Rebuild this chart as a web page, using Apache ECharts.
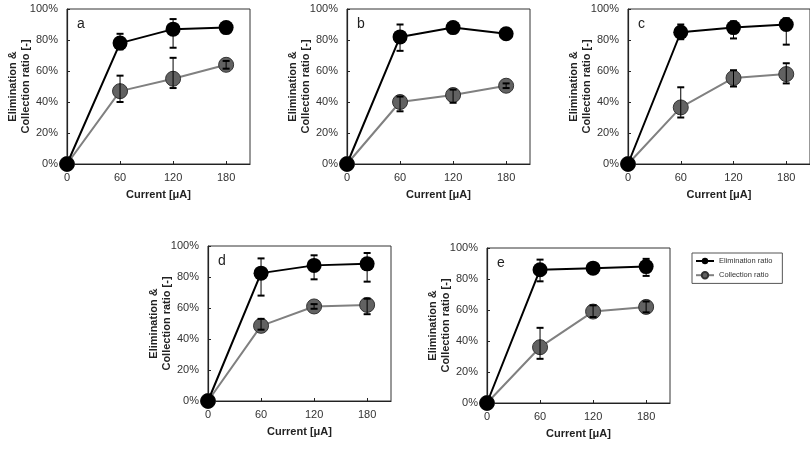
<!DOCTYPE html>
<html>
<head>
<meta charset="utf-8">
<script src="https://cdn.jsdelivr.net/npm/echarts@6/dist/echarts.min.js"></script>
<style>
  html, body { margin: 0; padding: 0; background: #fff; }
  #chart { width: 810px; height: 461px; }
</style>
</head>
<body>
<div id="chart"></div>
<script>
// currents on the x axis [uA]
const currents = [0, 60, 120, 180];
const panelLetters = ['a', 'b', 'c', 'd', 'e'];

// elimination / collection ratio [%] per panel
const elimA = [0, 78, 87, 88];
const collA = [0, 47, 55, 64];
const elimB = [0, 82, 88, 84];
const collB = [0, 40, 44.5, 50.5];
const elimC = [0, 85, 88, 90];
const collC = [0, 36.5, 55.5, 58];
const elimD = [0, 82.5, 87.5, 88.5];
const collD = [0, 48.5, 61, 62];
const elimE = [0, 86, 87, 88];
const collE = [0, 36, 59, 62];

// error bars [low, high] per point (null = none)
const elimErrA = [null, [74, 84], [75, 93.5], [85, 91]];
const collErrA = [null, [40, 57], [49, 68.5], [61.5, 66.5]];
const elimErrB = [null, [73, 90], null, null];
const collErrB = [null, [34, 43.5], [39.5, 48], [49, 52]];
const elimErrC = [null, [80.5, 90], [81, 92], [77, 94]];
const collErrC = [null, [30, 49.5], [50, 60.5], [52, 65]];
const elimErrD = [null, [68, 92], [78.5, 94], [77, 95.5]];
const collErrD = [null, [46, 53], [59.5, 62.5], [56, 66]];
const elimErrE = [null, [78.5, 92.5], [85.5, 88.5], [82, 93]];
const collErrE = [null, [28.5, 48.5], [55.5, 63], [58.5, 65.5]];

const elimAll = [elimA, elimB, elimC, elimD, elimE];
const collAll = [collA, collB, collC, collD, collE];
const elimErrAll = [elimErrA, elimErrB, elimErrC, elimErrD, elimErrE];
const collErrAll = [collErrA, collErrB, collErrC, collErrD, collErrE];

// panel boxes
const boxes = [
  { left: 67, top: 9 },
  { left: 347, top: 9 },
  { left: 628, top: 9 },
  { left: 208, top: 246 },
  { left: 487, top: 248 }
];
const boxW = 183, boxH = 155;

const font = 'Liberation Sans, Arial, sans-serif';

function errData(vals) {
  const out = [];
  vals.forEach((v, i) => {
    if (v) out.push([currents[i], v[0], v[1]]);
  });
  return out;
}

function errorSeries(idx, vals) {
  return {
    type: 'custom',
    xAxisIndex: idx,
    yAxisIndex: idx,
    z: 5,
    silent: true,
    data: errData(vals),
    encode: { x: 0, y: [1, 2] },
    renderItem: function (params, api) {
      const x = api.value(0);
      const lo = api.coord([x, api.value(1)]);
      const hi = api.coord([x, api.value(2)]);
      const w = 3.5;
      const cap = { stroke: '#000', lineWidth: 2 };
      return {
        type: 'group',
        children: [
          { type: 'line', shape: { x1: lo[0], y1: lo[1], x2: hi[0], y2: hi[1] }, style: { stroke: '#000', lineWidth: 1 } },
          { type: 'line', shape: { x1: lo[0] - w, y1: lo[1], x2: lo[0] + w, y2: lo[1] }, style: cap },
          { type: 'line', shape: { x1: hi[0] - w, y1: hi[1], x2: hi[0] + w, y2: hi[1] }, style: cap }
        ]
      };
    }
  };
}

const grids = [], xAxes = [], yAxes = [], series = [], titles = [];
boxes.forEach((b, i) => {
  grids.push({
    left: b.left, top: b.top, width: boxW, height: boxH,
    show: true, borderColor: '#333', borderWidth: 1, backgroundColor: 'transparent'
  });
  xAxes.push({
    type: 'value', gridIndex: i, min: 0, max: 207, interval: 60,
    name: 'Current [μA]', nameLocation: 'middle', nameGap: 25, nameMoveOverlap: false,
    nameTextStyle: { fontFamily: font, fontWeight: 'bold', fontSize: 11, color: '#222' },
    axisLine: { lineStyle: { color: '#222', width: 1.2 } },
    axisTick: { inside: true, length: 3, lineStyle: { color: '#222' } },
    axisLabel: { fontFamily: font, fontSize: 11, color: '#333', margin: 8, showMaxLabel: false },
    splitLine: { show: false }
  });
  yAxes.push({
    type: 'value', gridIndex: i, min: 0, max: 100, interval: 20,
    name: 'Elimination &\nCollection ratio [-]', nameLocation: 'middle', nameGap: 35, nameMoveOverlap: false,
    nameTextStyle: { fontFamily: font, fontWeight: 'bold', fontSize: 11, color: '#222', lineHeight: 13 },
    axisLine: { lineStyle: { color: '#222', width: 1.2 } },
    axisTick: { inside: true, length: 3, lineStyle: { color: '#222' } },
    axisLabel: { fontFamily: font, fontSize: 11, color: '#333', margin: 9, formatter: '{value}%' },
    splitLine: { show: false }
  });
  titles.push({
    text: panelLetters[i], left: b.left + 10, top: b.top + 8, padding: 0,
    textStyle: { fontFamily: font, fontWeight: 'normal', fontSize: 14, color: '#222' }
  });
  series.push({
    name: 'Collection ratio', type: 'line', xAxisIndex: i, yAxisIndex: i,
    data: currents.map((c, k) => [c, collAll[i][k]]),
    symbol: 'circle', symbolSize: 15, z: 2,
    lineStyle: { color: '#808080', width: 2 },
    itemStyle: { color: '#626262', borderColor: '#333', borderWidth: 1 },
    emphasis: { disabled: true }
  });
  series.push({
    name: 'Elimination ratio', type: 'line', xAxisIndex: i, yAxisIndex: i,
    data: currents.map((c, k) => [c, elimAll[i][k]]),
    symbol: 'circle', symbolSize: 15, z: 3,
    lineStyle: { color: '#000', width: 2 },
    itemStyle: { color: '#000' },
    emphasis: { disabled: true }
  });
  series.push(errorSeries(i, collErrAll[i]));
  series.push(errorSeries(i, elimErrAll[i]));
});

const chart = echarts.init(document.getElementById('chart'));
chart.setOption({
  animation: false,
  backgroundColor: '#fff',
  title: titles,
  legend: {
    data: ['Elimination ratio', 'Collection ratio'],
    orient: 'vertical',
    left: 692, top: 253,
    itemWidth: 18, itemHeight: 8, itemGap: 6,
    padding: [4, 10, 4, 3],
    borderColor: '#555', borderWidth: 1,
    textStyle: { fontFamily: font, fontSize: 7.5, color: '#333' }
  },
  grid: grids,
  xAxis: xAxes,
  yAxis: yAxes,
  series: series
});
</script>
</body>
</html>
